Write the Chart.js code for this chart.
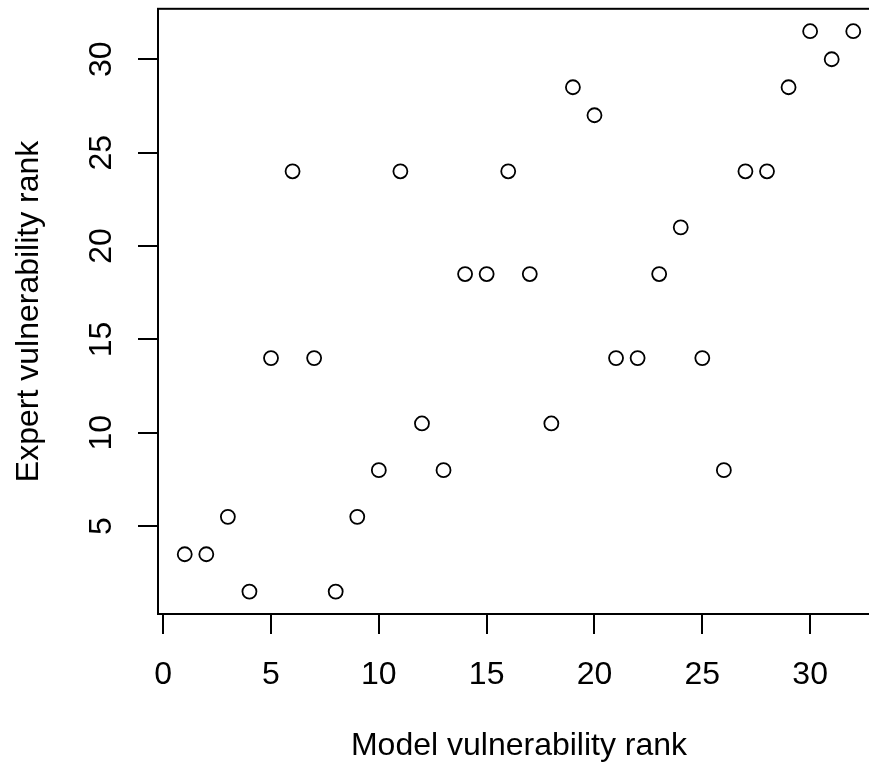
<!DOCTYPE html>
<html>
<head>
<meta charset="utf-8">
<script src="https://cdn.jsdelivr.net/npm/chart.js@4/dist/chart.umd.min.js"></script>
<style>
  html, body { margin: 0; padding: 0; background: #fff; overflow: hidden; }
  canvas { display: block; }
</style>
</head>
<body>
<canvas id="rank" width="900" height="767"></canvas>
<script>
// ranks for each of the 32 units
const modelRank = [1, 2, 3, 4, 5, 6, 7, 8, 9, 10, 11, 12, 13, 14, 15, 16,
  17, 18, 19, 20, 21, 22, 23, 24, 25, 26, 27, 28, 29, 30, 31, 32];
const expertRank = [3.5, 3.5, 5.5, 1.5, 14, 24, 14, 1.5, 5.5, 8, 24, 10.5, 8, 18.5, 18.5, 24,
  18.5, 10.5, 28.5, 27, 14, 14, 18.5, 21, 14, 8, 24, 24, 28.5, 31.5, 30, 31.5];
const xTicks = [0, 5, 10, 15, 20, 25, 30];
const yTicks = [5, 10, 15, 20, 25, 30];

const FONT = "'Liberation Sans', Arial, Helvetica, sans-serif";

// R-style frame and vertical y tick labels
const rFrame = {
  id: "rFrame",
  afterDraw(chart) {
    const { ctx, chartArea: a, scales } = chart;
    ctx.save();
    ctx.strokeStyle = "#000";
    ctx.lineWidth = 2;
    ctx.strokeRect(a.left, a.top, a.right - a.left, a.bottom - a.top);
    ctx.fillStyle = "#000";
    ctx.font = "32px " + FONT;
    ctx.textAlign = "center";
    ctx.textBaseline = "middle";
    yTicks.forEach((v) => {
      ctx.save();
      ctx.translate(102, scales.y.getPixelForValue(v));
      ctx.rotate(-Math.PI / 2);
      ctx.fillText(String(v), 0, 0);
      ctx.restore();
    });
    ctx.restore();
  },
};

new Chart(document.getElementById("rank"), {
  type: "scatter",
  data: {
    datasets: [
      {
        data: modelRank.map((x, i) => ({ x: x, y: expertRank[i] })),
        pointStyle: "circle",
        pointRadius: 7,
        pointHoverRadius: 7,
        borderWidth: 1.8,
        borderColor: "#000",
        backgroundColor: "rgba(0,0,0,0)",
      },
    ],
  },
  options: {
    responsive: false,
    animation: false,
    events: [],
    layout: { padding: { left: 0, right: 20, top: 7, bottom: 0 } },
    plugins: { legend: { display: false }, tooltip: { enabled: false } },
    scales: {
      x: {
        type: "linear",
        min: -0.24,
        max: 33.24,
        afterBuildTicks: (s) => { s.ticks = xTicks.map((v) => ({ value: v })); },
        afterFit: (s) => { s.height = 153; },
        grid: { drawOnChartArea: false, drawTicks: true, tickLength: 20, color: "#000", lineWidth: 2 },
        border: { display: true, color: "#000", width: 2 },
        ticks: { color: "#000", font: { family: FONT, size: 32 }, padding: 22, maxRotation: 0, autoSkip: false },
        title: { display: true, text: "Model vulnerability rank", color: "#000",
          font: { family: FONT, size: 32 }, padding: { top: 0, bottom: 2 } },
      },
      y: {
        type: "linear",
        min: 0.3,
        max: 32.7,
        afterBuildTicks: (s) => { s.ticks = yTicks.map((v) => ({ value: v })); },
        afterFit: (s) => { s.width = 158; },
        grid: { drawOnChartArea: false, drawTicks: true, tickLength: 20, color: "#000", lineWidth: 2 },
        border: { display: true, color: "#000", width: 2 },
        ticks: { display: false },
        title: { display: true, text: "Expert vulnerability rank", color: "#000",
          font: { family: FONT, size: 32 }, padding: { top: 10, bottom: 0 } },
      },
    },
  },
  plugins: [rFrame],
});
</script>
</body>
</html>
